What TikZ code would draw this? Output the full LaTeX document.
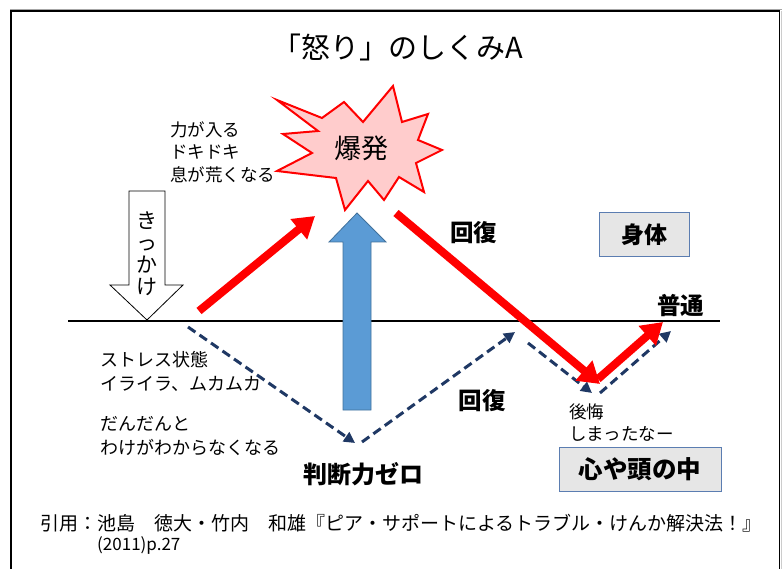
\documentclass[tikz,border=0pt]{standalone}
\usepackage{fontspec}
\setmainfont{Noto Sans CJK JP}
\usetikzlibrary{arrows.meta}
\definecolor{burstfill}{HTML}{FFCCCC}
\definecolor{upfill}{HTML}{5B9BD5}
\definecolor{upline}{HTML}{41719C}
\definecolor{navy}{HTML}{1F3864}
\definecolor{boxfill}{HTML}{E6E6E6}
\definecolor{boxline}{HTML}{5B7DB1}
\tikzset{
  txt/.style={inner sep=0pt, anchor=west, font=\fontsize{17.5}{20}\selectfont},
  bigtxt/.style={inner sep=0pt, font=\bfseries\fontsize{23.5}{26}\selectfont},
  redarrow/.style={draw=red, line width=8pt, -{Triangle[width=25pt,length=21pt]}},
  dasharrow/.style={draw=navy, line width=3pt, dash pattern=on 9pt off 5pt, -{Triangle[width=11pt,length=11pt]}},
  labelbox/.style={draw=boxline, fill=boxfill, line width=0.8pt, inner sep=0pt, font=\bfseries\fontsize{23}{26}\selectfont},
}
\begin{document}
\begin{tikzpicture}[x=1pt,y=-1pt]
\useasboundingbox (0,0) rectangle (782,569);
% frame
\draw[gray!70, line width=1.5pt] (10,9.3) -- (782,9.3);
\draw[black, line width=1.5pt] (11,569) -- (11,11) -- (779.5,11) -- (779.5,569);
\draw[gray!40, line width=1pt] (781.5,11) -- (781.5,569);
% title
\node[inner sep=0pt, font=\fontsize{29}{32}\selectfont] (title) at (398,47) {「怒り」のしくみA};
% baseline
\coordinate (bl0) at (68,321);
\coordinate (bl1) at (720,321);
\draw[line width=2.5pt] (bl0) -- (bl1);
% explosion
\draw[red, fill=burstfill, line width=2pt, line join=miter]
  (277,100) -- (322,118) -- (344,102) -- (363,122) -- (393,86) -- (402,122) -- (428,114)
  -- (418,140) -- (442,150) -- (416,163) -- (424,192) -- (399,177) -- (384,200) -- (368,181)
  -- (345,210) -- (336,178) -- (277,171) -- (312,153) -- (283,134) -- (318,131) -- cycle;
\node[inner sep=0pt, font=\fontsize{27}{28}\selectfont] (burst) at (361,148) {爆発};
% left top texts
\node[txt] (t1) at (170,129.5) {力が入る};
\node[txt] (t2) at (170,151.5) {ドキドキ};
\node[txt] (t3) at (170,175) {息が荒くなる};
% trigger arrow
\draw[black, fill=white, line width=0.8pt]
  (129,191) -- (165,191) -- (165,285) -- (183,285) -- (147,320) -- (110,285) -- (129,285) -- cycle;
\node[inner sep=0pt, align=center, font=\fontsize{21}{22}\selectfont] (kikkake) at (147,254) {き\\っ\\か\\け};
% dashed arrows
\coordinate (d1s) at (188,327); \coordinate (d1e) at (355,443);
\coordinate (d2s) at (362,442); \coordinate (d2e) at (515,332);
\coordinate (d3s) at (528,343); \coordinate (d3e) at (592,393);
\coordinate (d4s) at (600,393); \coordinate (d4e) at (671,331);
\draw[dasharrow] (d1s) -- (d1e);
\draw[dasharrow] (d2s) -- (d2e);
\draw[dasharrow] (d3s) -- (d3e);
\draw[dasharrow] (d4s) -- (d4e);
% blue up arrow
\draw[upline, fill=upfill, line width=0.8pt]
  (343,410) -- (343,242) -- (329,242) -- (357,213) -- (386,242) -- (371,242) -- (371,410) -- cycle;
% red arrows
\coordinate (r1s) at (199,311); \coordinate (r1e) at (315,216);
\coordinate (r2s) at (396,213); \coordinate (r2e) at (600,384);
\coordinate (r3s) at (598,379); \coordinate (r3e) at (663,322);
\draw[redarrow] (r1s) -- (r1e);
\draw[redarrow] (r2s) -- (r2e);
\draw[redarrow] (r3s) -- (r3e);
% labels
\node[bigtxt] (kaifuku1) at (473.5,233) {回復};
\node[bigtxt] (kaifuku2) at (482,401) {回復};
\node[bigtxt] (futsu) at (680.5,306) {普通};
\node[bigtxt, font=\bfseries\fontsize{24}{26}\selectfont] (handan) at (363,474) {判断力ゼロ};
\node[labelbox, minimum width=90pt, minimum height=44pt] (shintai) at (644,234.5) {身体};
\node[labelbox, minimum width=162pt, minimum height=44pt, font=\bfseries\fontsize{24.5}{26}\selectfont] (kokoro) at (640,469) {心や頭の中};
% lower left texts
\node[txt, font=\fontsize{18}{20}\selectfont] (s1) at (100,360) {ストレス状態};
\node[txt, font=\fontsize{18}{20}\selectfont] (s2) at (100,383.5) {イライラ、ムカムカ};
\node[txt, font=\fontsize{18}{20}\selectfont] (s3) at (100,423.5) {だんだんと};
\node[txt, font=\fontsize{18}{20}\selectfont] (s4) at (100,447.5) {わけがわからなくなる};
% regret
\node[txt] (k1) at (569,411.5) {後悔};
\node[txt] (k2) at (569,434) {しまったなー};
% citation
\node[inner sep=0pt, anchor=west, font=\fontsize{19}{20}\selectfont] (cite1) at (40,523) {引用：池島　徳大・竹内　和雄『ピア・サポートによるトラブル・けんか解決法！』};
\node[inner sep=0pt, anchor=west, font=\fontsize{17}{20}\selectfont] (cite2) at (97,545) {(2011)p.27};
\end{tikzpicture}
\end{document}
